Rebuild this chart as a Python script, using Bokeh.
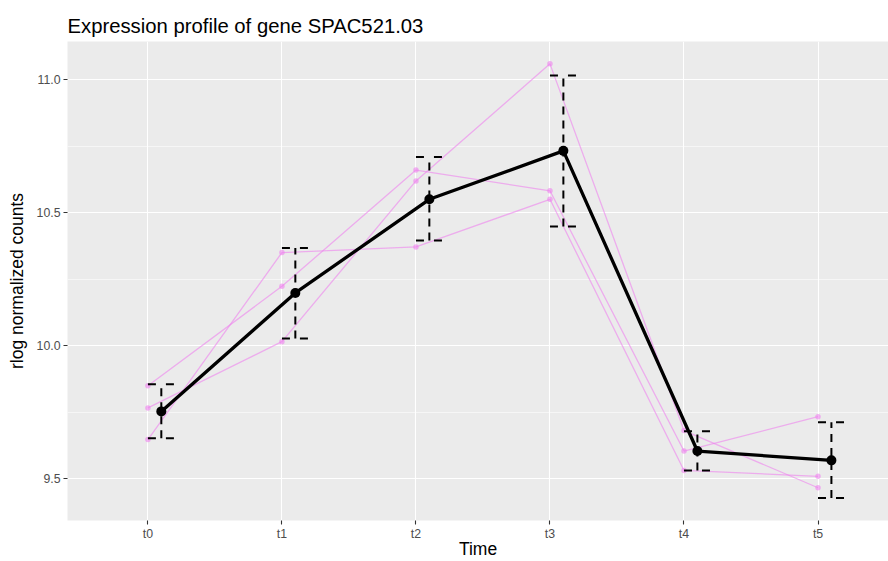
from bokeh.plotting import figure
from bokeh.models import Range1d, FixedTicker, ColumnDataSource
from bokeh.embed import file_html
from bokeh.resources import INLINE

# ---- data ----
times = ["t0", "t1", "t2", "t3", "t4", "t5"]
rep_a = [9.849, 10.223, 10.660, 10.582, 9.604, 9.733]
rep_b = [9.766, 10.015, 10.619, 11.059, 9.681, 9.466]
rep_c = [9.647, 10.350, 10.371, 10.550, 9.531, 9.509]
mean_vals = [9.753, 10.198, 10.550, 10.732, 9.604, 9.569]
err_low = [9.652, 10.027, 10.395, 10.448, 9.531, 9.428]
err_high = [9.855, 10.367, 10.709, 11.015, 9.678, 9.712]
y_ticks = [9.5, 10.0, 10.5, 11.0]
y_minor = [9.25, 9.75, 10.25, 10.75, 11.25]

FONT = "Liberation Sans"
PINK = "violet"
DODGE = 0.1
CAP = 0.1

xs = list(range(len(times)))
xd = [x + DODGE for x in xs]

p = figure(width=888, height=561, output_backend="svg", toolbar_location=None,
           x_range=Range1d(-0.6, 5.526), y_range=Range1d(9.343, 11.143),
           min_border_left=67, min_border_right=0, min_border_top=41, min_border_bottom=39,
           background_fill_color="#EBEBEB", border_fill_color="white",
           outline_line_color=None, title="Expression profile of gene SPAC521.03")

p.title.text_font = FONT
p.title.text_font_size = "20.3px"
p.title.text_font_style = "normal"
p.title.text_color = "black"
p.title.align = "left"
p.title.offset = 0

# grids
p.xgrid.ticker = FixedTicker(ticks=xs)
p.ygrid.ticker = FixedTicker(ticks=y_ticks, minor_ticks=y_minor)
for g in (p.xgrid, p.ygrid):
    g.grid_line_color = "white"
    g.grid_line_width = 1.1
p.ygrid.minor_grid_line_color = "white"
p.ygrid.minor_grid_line_width = 0.55

# axes
p.xaxis.ticker = FixedTicker(ticks=xs)
p.xaxis.major_label_overrides = {i: t for i, t in enumerate(times)}
p.yaxis.ticker = FixedTicker(ticks=y_ticks)
p.yaxis.major_label_overrides = {v: f"{v:.1f}" for v in y_ticks}
p.xaxis.axis_label = "Time"
p.yaxis.axis_label = "rlog normalized counts"
for ax in (p.xaxis[0], p.yaxis[0]):
    ax.axis_line_color = None
    ax.major_tick_line_color = "#333333"
    ax.major_tick_line_width = 1.1
    ax.major_tick_out = 4
    ax.major_tick_in = 0
    ax.minor_tick_line_color = None
    ax.major_label_text_font = FONT
    ax.major_label_text_font_size = "12.3px"
    ax.major_label_text_color = "#4D4D4D"
    ax.major_label_standoff = 3
    ax.axis_label_text_font = FONT
    ax.axis_label_text_font_size = "17.5px"
    ax.axis_label_text_font_style = "normal"
    ax.axis_label_text_color = "black"
    ax.axis_label_standoff = 2
p.xaxis[0].major_label_standoff = 2
p.xaxis[0].axis_label_standoff = -5
p.yaxis[0].axis_label_standoff = 7

# replicate lines
for rep in (rep_a, rep_b, rep_c):
    src = ColumnDataSource(dict(x=xs, y=rep))
    p.line("x", "y", source=src, line_color=PINK, line_alpha=0.6, line_width=1.3)
    p.scatter("x", "y", source=src, size=5.5, fill_color=PINK, line_color=None, fill_alpha=0.6)

# error bars (mean +/- sd), dashed
eb = ColumnDataSource(dict(x=xd, lo=err_low, hi=err_high,
                           cl=[x - CAP for x in xd], cr=[x + CAP for x in xd]))
p.segment(x0="x", y0="lo", x1="x", y1="hi", source=eb, line_color="black",
          line_width=2, line_dash="8 6")
p.segment(x0="cl", y0="lo", x1="cr", y1="lo", source=eb, line_color="black",
          line_width=2, line_dash="8 10")
p.segment(x0="cl", y0="hi", x1="cr", y1="hi", source=eb, line_color="black",
          line_width=2, line_dash="8 10")

# mean profile
ms = ColumnDataSource(dict(x=xd, y=mean_vals))
p.line("x", "y", source=ms, line_color="black", line_width=3.3)
p.scatter("x", "y", source=ms, size=10, fill_color="black", line_color=None)

open("out.html", "w").write(file_html(p, INLINE))
